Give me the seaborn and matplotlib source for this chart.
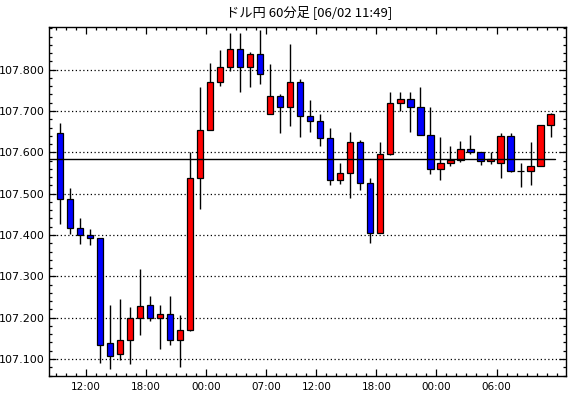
import matplotlib
matplotlib.use("Agg")
import matplotlib.pyplot as plt
import seaborn as sns
import numpy as np
import pandas as pd
from matplotlib.ticker import MultipleLocator, FixedLocator, FuncFormatter

# ---- data (USD/JPY, 60-minute candles) ----
opens = [107.646, 107.486, 107.418, 107.399, 107.392, 107.138, 107.111, 107.145, 107.198, 107.230,
         107.200, 107.210, 107.147, 107.170, 107.537, 107.653, 107.771, 107.807, 107.850, 107.807,
         107.838, 107.693, 107.736, 107.709, 107.771, 107.688, 107.677, 107.634, 107.532, 107.549,
         107.624, 107.527, 107.406, 107.595, 107.719, 107.729, 107.710, 107.641, 107.559, 107.573,
         107.581, 107.607, 107.600, 107.578, 107.573, 107.639, 107.556, 107.556, 107.566, 107.665]
highs = [107.672, 107.514, 107.441, 107.414, 107.392, 107.230, 107.245, 107.226, 107.317, 107.252,
         107.230, 107.252, 107.206, 107.600, 107.759, 107.816, 107.848, 107.889, 107.889, 107.843,
         107.895, 107.813, 107.741, 107.861, 107.777, 107.727, 107.692, 107.658, 107.573, 107.648,
         107.629, 107.539, 107.624, 107.746, 107.747, 107.745, 107.757, 107.709, 107.636, 107.615,
         107.627, 107.641, 107.602, 107.600, 107.646, 107.646, 107.573, 107.624, 107.665, 107.695]
lows = [107.426, 107.402, 107.379, 107.376, 107.091, 107.076, 107.097, 107.087, 107.158, 107.192,
        107.123, 107.135, 107.081, 107.168, 107.463, 107.653, 107.760, 107.796, 107.747, 107.758,
        107.766, 107.693, 107.647, 107.664, 107.636, 107.650, 107.616, 107.520, 107.523, 107.489,
        107.508, 107.380, 107.406, 107.593, 107.700, 107.650, 107.641, 107.547, 107.532, 107.566,
        107.576, 107.595, 107.569, 107.571, 107.539, 107.552, 107.515, 107.520, 107.566, 107.636]
closes = [107.486, 107.418, 107.399, 107.392, 107.134, 107.108, 107.145, 107.198, 107.227, 107.200,
          107.210, 107.147, 107.171, 107.537, 107.653, 107.771, 107.807, 107.850, 107.807, 107.838,
          107.790, 107.736, 107.709, 107.771, 107.688, 107.677, 107.634, 107.532, 107.549, 107.624,
          107.527, 107.406, 107.595, 107.719, 107.729, 107.710, 107.641, 107.559, 107.573, 107.581,
          107.607, 107.600, 107.578, 107.583, 107.639, 107.556, 107.556, 107.566, 107.665, 107.693]
current_price = 107.583
xtick_pos = [2.6, 8.6, 14.6, 20.6, 25.6, 31.6, 37.6, 43.6]
xtick_labels = ["12:00", "18:00", "00:00", "07:00", "12:00", "18:00", "00:00", "06:00"]
ytick_vals = [107.1, 107.2, 107.3, 107.4, 107.5, 107.6, 107.7, 107.8]
title = "ドル円 60分足 [06/02 11:49]"

df = pd.DataFrame({"open": opens, "high": highs, "low": lows, "close": closes})
df["idx"] = np.arange(len(df))
df["bottom"] = df[["open", "close"]].min(axis=1)
df["height"] = (df["close"] - df["open"]).abs()
df["color"] = np.where(df["close"] > df["open"], "#ff0000",
                       np.where(df["close"] < df["open"], "#0000ff", "#000000"))

sns.set_theme(style="ticks")
plt.rcParams["font.family"] = ["DejaVu Sans"]

fig = plt.figure(figsize=(5.7, 3.98), dpi=100)
fig.patch.set_facecolor("white")
ax = fig.add_axes([49 / 570, (398 - 375.5) / 398, (566 - 49) / 570, (375.5 - 26.7) / 398])
ax.set_facecolor("white")

xlo, xhi = -1.1, 50.54
ax.set_xlim(xlo, xhi)
ax.set_ylim(107.060, 107.904)

# grid
for v in ytick_vals:
    ax.axhline(v, color="black", lw=0.9, ls=(0, (1, 2)), zorder=1)

# wicks
ax.vlines(df["idx"], df["low"], df["high"], color="black", lw=1.0, zorder=2)
# bodies
ax.bar(df["idx"], df["height"], bottom=df["bottom"], width=0.62,
       color=df["color"], edgecolor="black", linewidth=0.9, zorder=3)

# current price line
ax.axhline(current_price, xmin=0, xmax=(49.4 - xlo) / (xhi - xlo),
           color="black", lw=1.0, zorder=4)

# ticks
ax.xaxis.set_major_locator(FixedLocator(xtick_pos))
ax.set_xticklabels(xtick_labels)
ax.xaxis.set_minor_locator(FixedLocator(np.arange(-0.4, 50.5, 1.0)))
ax.yaxis.set_major_locator(FixedLocator(ytick_vals))
ax.yaxis.set_major_formatter(FuncFormatter(lambda v, p: f"{v:.3f}"))
ax.yaxis.set_minor_locator(MultipleLocator(0.02))
ax.tick_params(which="both", direction="in", top=True, right=True, colors="black",
               width=0.9)
ax.tick_params(axis="x", labelsize=7.5)
ax.tick_params(axis="y", labelsize=8)
ax.tick_params(which="major", length=5)
ax.tick_params(which="minor", length=2.2)
ax.tick_params(axis="x", which="major", pad=5)
ax.tick_params(axis="y", which="major", pad=3)
for s in ax.spines.values():
    s.set_color("black")
    s.set_linewidth(1.0)

fig.text(309 / 570, 1 - 12 / 398, title, ha="center", va="center", fontsize=9.5,
         family=["Noto Sans CJK JP", "DejaVu Sans"], color="black")

fig.savefig("out.png", dpi=100, facecolor="white")
